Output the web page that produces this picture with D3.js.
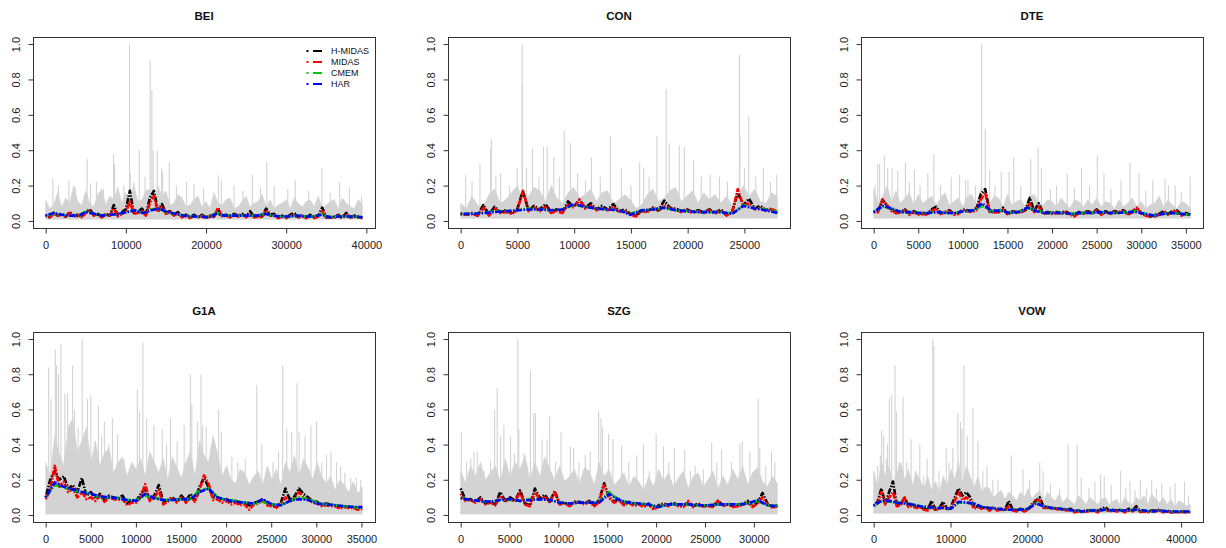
<!DOCTYPE html>
<html><head><meta charset="utf-8">
<script src="https://cdn.jsdelivr.net/npm/d3@7"></script>
<style>body{margin:0;background:#fff}svg{display:block}text{font-family:"Liberation Sans",Arial,sans-serif}</style>
</head><body><svg id="c" width="1226" height="548"></svg>
<script>
// ---------------- data ----------------
const panelNames = ["BEI","CON","DTE","G1A","SZG","VOW"];
const seriesNames = ["H-MIDAS","MIDAS","CMEM","HAR"];
const seriesColors = ["#000000","#ff0000","#00cd00","#0000ff"];
const yTicks = [0,0.2,0.4,0.6,0.8,1.0];
const xTicksBEI = [0,10000,20000,30000,40000];
const xTicksCON = [0,5000,10000,15000,20000,25000];
const xTicksDTE = [0,5000,10000,15000,20000,25000,30000,35000];
const xTicksG1A = [0,5000,10000,15000,20000,25000,30000,35000];
const xTicksSZG = [0,5000,10000,15000,20000,25000,30000];
const xTicksVOW = [0,10000,20000,30000,40000];
const lastIndex = [39500,27900,35500,35100,32400,41200];
const greyLow = [0.01,0.015,0.015,0.005,0.005,0.01];

// BEI
const beiGrey = [.12,.07,.09,.16,.08,.13,.1,.2,.11,.09,.17,.1,.08,.15,.18,.09,.14,.12,.19,.1,.16,.13,.2,.11,.12,.17,.18,.1,.2,.14,.17,.09,.1,.15,.13,.08,.09,.12,.14,.08,.11,.07,.16,.1,.09,.12,.13,.07,.08,.11,.14,.08,.1,.11,.15,.08,.12,.07,.09,.1,.12,.07,.13,.1,.08,.11,.12,.08,.14,.07,.09,.11,.12,.07,.13,.1,.08,.07,.12,.09];
const beiSpikes = [[900,.24],[1600,.2],[2900,.23],[3700,.19],[5170,.35],[5600,.21],[6330,.22],[7200,.18],[8460,.38],[8600,.32],[9750,.2],[10460,1.0],[10550,.27],[11000,.22],[11670,.4],[12400,.25],[13040,.91],[13250,.74],[13400,.4],[13920,.4],[14460,.3],[14600,.28],[15420,.33],[16300,.2],[17580,.22],[18500,.21],[19700,.18],[21540,.26],[21900,.23],[23500,.2],[24600,.17],[25790,.26],[26800,.19],[27580,.335],[28500,.2],[30200,.18],[31130,.23],[32800,.17],[34460,.3],[35500,.16],[36670,.22],[37880,.19],[39400,.14]];
const beiH = [.035,.02,.045,.03,.04,.025,.05,.03,.035,.025,.05,.065,.035,.04,.025,.04,.03,.09,.03,.05,.065,.17,.045,.05,.07,.035,.13,.17,.06,.095,.045,.055,.035,.05,.025,.035,.02,.035,.02,.035,.02,.03,.025,.065,.03,.035,.025,.04,.03,.04,.025,.055,.025,.03,.025,.07,.035,.04,.02,.03,.02,.035,.045,.025,.03,.02,.035,.02,.03,.075,.02,.025,.02,.035,.02,.045,.02,.03,.025,.02];
const beiM = [.03,.02,.04,.03,.035,.02,.045,.025,.03,.02,.045,.06,.03,.035,.02,.035,.03,.07,.025,.04,.05,.11,.04,.045,.055,.03,.1,.14,.05,.08,.04,.05,.03,.045,.02,.03,.015,.03,.02,.03,.015,.025,.025,.075,.025,.03,.02,.035,.025,.035,.02,.04,.02,.025,.02,.06,.03,.035,.015,.025,.015,.03,.035,.02,.025,.015,.03,.015,.025,.055,.015,.02,.015,.03,.015,.035,.015,.025,.02,.015];
const beiC = [.03,.04,.035,.03,.03,.055,.04,.03,.035,.04,.05,.06,.045,.065,.07,.045,.04,.03,.025,.025,.02,.045,.03,.03,.03,.03,.03,.04,.03,.025,.025,.03,.025,.025,.04,.02,.025,.025,.025,.02];
const beiR = [.03,.045,.035,.03,.03,.05,.04,.03,.035,.04,.05,.06,.045,.06,.07,.05,.04,.03,.025,.025,.02,.04,.03,.03,.03,.03,.03,.04,.03,.025,.025,.03,.025,.025,.035,.02,.025,.025,.025,.02];

// CON
const conGrey = [.1,.07,.14,.09,.08,.15,.18,.1,.12,.16,.2,.12,.14,.19,.17,.11,.2,.13,.1,.16,.19,.13,.15,.18,.11,.16,.17,.1,.12,.15,.12,.07,.09,.15,.18,.11,.13,.17,.19,.11,.14,.17,.1,.16,.12,.15,.1,.14,.09,.13,.2,.14,.18,.11,.1,.16,.14];
const conSpikes = [[440,.26],[1000,.22],[1700,.32],[2640,.41],[2700,.46],[3100,.25],[3520,.27],[4300,.2],[4980,.3],[5420,1.0],[5440,.78],[5800,.3],[6330,.41],[6900,.25],[7300,.42],[7620,.42],[8200,.36],[8700,.25],[9120,.51],[9670,.44],[10300,.27],[11000,.23],[11520,.36],[12300,.25],[13190,.48],[14160,.3],[15000,.2],[15770,.33],[16120,.3],[16600,.25],[17290,.48],[18110,.745],[18380,.44],[19260,.43],[19700,.42],[20520,.34],[21200,.25],[21980,.26],[22800,.25],[23500,.22],[24560,.94],[24600,.48],[25000,.3],[25380,.59],[26000,.25],[26670,.3],[27300,.22],[27840,.26]];
const conH = [.04,.035,.045,.03,.09,.035,.08,.05,.06,.045,.065,.17,.06,.085,.065,.095,.05,.065,.05,.11,.08,.12,.075,.1,.065,.085,.065,.095,.055,.065,.04,.03,.06,.055,.075,.06,.115,.075,.07,.055,.065,.05,.06,.05,.065,.045,.065,.035,.05,.16,.09,.125,.07,.085,.06,.07,.045];
const conM = [.04,.035,.04,.03,.075,.03,.07,.045,.05,.04,.06,.17,.055,.075,.055,.08,.045,.055,.045,.09,.075,.12,.07,.085,.06,.075,.06,.08,.05,.055,.035,.025,.055,.05,.07,.055,.09,.07,.065,.05,.06,.045,.055,.045,.06,.04,.06,.03,.045,.18,.085,.1,.065,.075,.055,.065,.055];
const conC = [.04,.04,.045,.055,.055,.06,.07,.065,.06,.065,.09,.08,.07,.065,.06,.04,.06,.065,.075,.06,.055,.05,.05,.05,.04,.09,.07,.065,.05];
const conR = [.04,.04,.045,.05,.055,.06,.065,.065,.06,.065,.095,.08,.07,.065,.06,.035,.06,.065,.075,.06,.055,.05,.05,.05,.04,.085,.07,.06,.045];

// DTE
const dteGrey = [.18,.1,.14,.2,.11,.17,.1,.13,.16,.09,.15,.1,.12,.14,.09,.13,.16,.09,.11,.13,.08,.14,.15,.09,.18,.12,.1,.14,.13,.08,.15,.09,.11,.12,.08,.14,.15,.1,.09,.12,.11,.08,.13,.1,.07,.12,.11,.08,.12,.09,.13,.08,.11,.1,.07,.12,.08,.1,.13,.08,.11,.07,.09,.1,.14,.08,.12,.09,.07,.11,.1,.07];
const dteSpikes = [[150,.2],[450,.32],[670,.32],[1200,.37],[1570,.3],[2060,.3],[2700,.285],[3560,.33],[4000,.22],[4570,.29],[5200,.2],[6070,.27],[6745,.377],[7500,.2],[8690,.25],[9630,.26],[10300,.23],[10570,.23],[11400,.2],[12100,1.0],[12510,.52],[13000,.29],[13600,.2],[14300,.28],[15180,.28],[15700,.36],[16500,.2],[17610,.35],[18430,.415],[18810,.3],[19800,.18],[20500,.2],[21700,.27],[22500,.19],[23300,.3],[24200,.2],[25070,.37],[25820,.27],[26600,.18],[27730,.23],[28740,.33],[29750,.27],[30500,.17],[31290,.23],[32670,.24],[33050,.2],[33800,.2],[34500,.16],[35480,.25]];
const dteH = [.05,.06,.12,.085,.065,.045,.05,.065,.04,.055,.04,.045,.04,.065,.08,.045,.05,.06,.04,.045,.065,.06,.055,.065,.15,.18,.055,.06,.05,.075,.04,.055,.05,.055,.06,.13,.055,.1,.045,.05,.045,.05,.045,.055,.04,.035,.05,.045,.055,.045,.065,.04,.055,.045,.055,.05,.06,.04,.055,.07,.045,.035,.025,.035,.04,.055,.04,.055,.06,.035,.045,.035];
const dteM = [.05,.05,.12,.09,.055,.045,.045,.06,.035,.05,.035,.04,.035,.055,.07,.04,.045,.055,.035,.04,.06,.055,.05,.06,.12,.16,.05,.05,.045,.065,.035,.05,.045,.05,.055,.1,.05,.08,.04,.045,.04,.045,.04,.05,.035,.025,.045,.04,.05,.04,.06,.035,.05,.04,.05,.045,.055,.035,.05,.075,.04,.03,.025,.025,.035,.05,.035,.05,.055,.03,.04,.03];
const dteC = [.05,.08,.07,.05,.05,.045,.045,.05,.045,.045,.055,.06,.085,.055,.06,.045,.05,.075,.06,.045,.045,.045,.04,.045,.045,.05,.045,.045,.05,.055,.04,.03,.04,.045,.04,.035];
const dteR = [.05,.085,.07,.05,.05,.045,.045,.05,.045,.045,.055,.06,.1,.055,.06,.045,.05,.075,.055,.045,.045,.045,.04,.045,.045,.05,.045,.045,.05,.05,.04,.03,.04,.045,.04,.035];

// G1A
const g1aGrey = [.3,.22,.45,.35,.28,.5,.55,.36,.42,.5,.3,.42,.28,.35,.38,.24,.3,.33,.22,.3,.26,.32,.22,.36,.3,.24,.32,.2,.33,.27,.21,.3,.36,.22,.42,.34,.3,.45,.35,.22,.28,.2,.18,.26,.24,.17,.22,.25,.17,.28,.2,.26,.17,.3,.24,.34,.22,.32,.27,.2,.3,.22,.18,.22,.14,.2,.17,.13,.19,.12,.16];
const g1aSpikes = [[330,.84],[590,.66],[1070,.94],[1210,.85],[1430,.8],[1690,.97],[2130,.69],[2430,.69],[2980,.85],[3200,.6],[3600,.5],[4050,1.0],[4640,.66],[5000,.68],[5480,.42],[5850,.62],[6200,.45],[6510,.53],[7000,.4],[7400,.55],[7950,.46],[8680,.32],[9460,.26],[10160,.71],[10400,.59],[10780,.98],[11190,.55],[12000,.51],[12920,.49],[13400,.4],[13840,.55],[14570,.42],[15350,.51],[16040,.8],[16200,.63],[16850,.53],[17220,.8],[17400,.51],[17800,.5],[18360,.39],[19170,.6],[19470,.47],[20640,.33],[21300,.3],[22120,.32],[22850,.2],[23400,.74],[23960,.4],[24620,.19],[25200,.3],[25800,.36],[26270,.85],[26720,.49],[27270,.47],[27860,.75],[28100,.47],[28740,.45],[29400,.51],[30030,.53],[30600,.3],[31130,.34],[31610,.36],[32240,.3],[32700,.28],[33160,.24],[33820,.21],[34450,.21],[34920,.2]];
const g1aH = [.1,.2,.25,.2,.22,.15,.17,.13,.21,.11,.13,.095,.12,.085,.11,.1,.095,.11,.065,.085,.08,.12,.15,.085,.11,.17,.075,.085,.1,.08,.11,.08,.12,.085,.16,.21,.16,.1,.1,.085,.09,.075,.08,.065,.07,.055,.07,.075,.09,.065,.06,.045,.07,.15,.085,.105,.15,.12,.1,.08,.075,.055,.065,.06,.055,.045,.05,.045,.045,.04,.045];
const g1aM = [.09,.14,.28,.16,.19,.13,.15,.1,.13,.09,.1,.08,.11,.075,.1,.09,.085,.09,.055,.07,.07,.1,.175,.08,.095,.14,.06,.075,.095,.07,.1,.07,.105,.075,.14,.225,.18,.085,.09,.07,.08,.06,.07,.055,.06,.03,.06,.065,.085,.055,.05,.04,.065,.1,.075,.095,.13,.1,.09,.07,.065,.05,.055,.05,.05,.035,.045,.04,.04,.03,.035];
const g1aC = [.1,.17,.16,.14,.13,.12,.1,.1,.095,.085,.085,.11,.1,.085,.085,.09,.09,.14,.15,.1,.085,.08,.07,.065,.075,.06,.055,.08,.1,.09,.07,.06,.055,.05,.045,.04];
const g1aR = [.1,.185,.16,.145,.13,.12,.105,.1,.095,.085,.08,.12,.095,.085,.085,.09,.09,.13,.15,.1,.085,.075,.07,.065,.09,.06,.055,.08,.09,.085,.065,.06,.055,.05,.045,.045];

// SZG
const szgGrey = [.25,.18,.28,.22,.3,.2,.24,.28,.19,.32,.22,.3,.26,.34,.2,.3,.22,.33,.26,.2,.28,.19,.22,.26,.18,.27,.25,.17,.3,.22,.26,.17,.2,.24,.16,.22,.19,.14,.22,.16,.26,.19,.24,.16,.21,.25,.15,.22,.24,.16,.2,.25,.15,.22,.17,.26,.2,.28,.17,.24,.27,.19,.16,.22,.18];
const szgSpikes = [[70,.47],[610,.3],[1020,.32],[1360,.36],[1700,.36],[2400,.25],[3060,.31],[3470,.6],[3740,.72],[4080,.45],[4420,.51],[5100,.45],[5500,.35],[5850,1.0],[5950,.49],[6500,.35],[7140,.82],[7480,.58],[7650,.58],[8330,.43],[8840,.43],[9110,.56],[9700,.3],[10270,.47],[11220,.39],[11560,.38],[12100,.3],[12750,.34],[13260,.36],[14110,.59],[14350,.55],[14520,.5],[15130,.46],[15580,.43],[16460,.39],[17200,.3],[18020,.34],[18700,.4],[19300,.25],[20000,.46],[20750,.39],[21300,.3],[21870,.38],[22920,.37],[23500,.25],[23980,.28],[24830,.26],[25680,.41],[26200,.3],[26700,.37],[27720,.3],[28570,.4],[28810,.42],[29590,.36],[30440,.66],[30600,.38],[31220,.28],[31800,.36],[32140,.3]];
const szgH = [.15,.085,.09,.075,.1,.065,.075,.06,.13,.08,.1,.08,.14,.065,.055,.15,.095,.115,.075,.135,.065,.07,.055,.075,.075,.065,.08,.055,.085,.18,.1,.075,.09,.06,.075,.055,.065,.05,.065,.035,.055,.065,.055,.07,.055,.05,.07,.05,.065,.05,.055,.05,.08,.055,.065,.05,.055,.06,.08,.05,.07,.125,.065,.045,.055];
const szgM = [.12,.08,.085,.07,.09,.06,.07,.055,.11,.075,.09,.075,.13,.06,.05,.13,.09,.1,.07,.13,.06,.065,.05,.07,.07,.06,.075,.05,.075,.17,.095,.07,.085,.055,.07,.05,.06,.045,.06,.03,.05,.06,.05,.065,.05,.045,.08,.045,.06,.045,.05,.045,.08,.05,.06,.045,.05,.055,.07,.045,.065,.1,.06,.04,.05];
const szgC = [.1,.085,.08,.075,.085,.085,.08,.09,.09,.085,.07,.065,.07,.07,.075,.13,.085,.07,.065,.06,.045,.06,.06,.06,.055,.055,.06,.06,.06,.065,.08,.055,.05];
const szgR = [.095,.085,.08,.075,.085,.09,.08,.085,.09,.085,.07,.065,.07,.07,.07,.12,.085,.07,.065,.06,.045,.06,.06,.06,.055,.055,.06,.06,.06,.065,.085,.055,.05];

// VOW
const vowGrey = [.25,.16,.3,.22,.28,.18,.24,.3,.2,.26,.17,.24,.2,.15,.22,.14,.19,.13,.22,.17,.26,.2,.3,.18,.28,.22,.16,.22,.13,.16,.15,.1,.12,.14,.09,.13,.11,.08,.13,.1,.15,.09,.12,.14,.08,.13,.1,.08,.12,.07,.1,.08,.06,.11,.09,.06,.1,.08,.06,.09,.1,.06,.08,.09,.05,.1,.07,.06,.1,.08,.11,.06,.12,.09,.07,.1,.06,.09,.05,.08,.07,.05,.06];
const vowSpikes = [[90,.24],[520,.28],[870,.34],[1040,.48],[1300,.45],[1650,.32],[1800,.4],[2040,.66],[2350,.68],[2780,.85],[2960,.59],[3300,.3],[3830,.67],[4300,.3],[4870,.43],[5400,.25],[6000,.4],[6500,.22],[6960,.32],[7700,1.0],[7830,.96],[8500,.25],[9440,.38],[9800,.3],[10300,.38],[10960,.58],[11300,.53],[11480,.49],[11740,.85],[12170,.45],[12910,.61],[13570,.42],[14200,.25],[14740,.28],[15500,.2],[16170,.2],[17910,.34],[19430,.26],[20300,.2],[21610,.3],[22040,.25],[23000,.18],[24200,.15],[25300,.4],[26480,.4],[27000,.21],[28000,.15],[28780,.19],[29520,.23],[30000,.22],[30900,.17],[32130,.25],[32800,.15],[33350,.19],[34000,.14],[34700,.2],[35500,.15],[36170,.2],[36800,.15],[37480,.18],[38570,.16],[39220,.18],[40440,.19],[40960,.11]];
const vowH = [.05,.075,.15,.065,.13,.19,.055,.06,.1,.05,.06,.045,.05,.035,.03,.08,.03,.04,.075,.035,.045,.1,.15,.11,.13,.1,.045,.05,.04,.045,.03,.045,.03,.035,.03,.08,.03,.025,.035,.025,.035,.06,.08,.1,.045,.045,.04,.04,.035,.035,.03,.035,.02,.025,.02,.025,.025,.03,.02,.035,.045,.025,.03,.025,.03,.02,.035,.025,.05,.02,.025,.02,.025,.025,.03,.02,.025,.015,.02,.015,.02,.015,.02];
const vowM = [.05,.065,.13,.06,.1,.13,.05,.055,.1,.045,.05,.04,.045,.03,.025,.05,.025,.035,.05,.03,.04,.08,.13,.085,.1,.08,.035,.045,.035,.04,.025,.04,.025,.03,.025,.05,.025,.02,.03,.02,.03,.05,.09,.08,.04,.04,.035,.035,.03,.03,.025,.03,.015,.02,.015,.02,.02,.025,.015,.03,.03,.02,.025,.02,.025,.015,.03,.02,.035,.015,.02,.015,.02,.02,.025,.015,.02,.015,.015,.015,.015,.015,.015];
const vowC = [.05,.08,.075,.07,.065,.06,.05,.045,.04,.04,.035,.07,.07,.065,.045,.04,.035,.03,.03,.03,.035,.07,.05,.04,.035,.03,.025,.02,.025,.025,.03,.025,.025,.025,.03,.025,.02,.025,.02,.02,.02,.02];
const vowR = [.055,.08,.08,.07,.065,.06,.05,.045,.04,.04,.035,.075,.07,.065,.045,.04,.035,.03,.03,.03,.035,.065,.05,.04,.035,.03,.025,.02,.025,.025,.03,.025,.025,.025,.03,.025,.02,.025,.02,.02,.02,.02];

// ---------------- assembly ----------------
const panels = [
  {grey:beiGrey, spikes:beiSpikes, series:[beiH,beiM,beiC,beiR], xt:xTicksBEI},
  {grey:conGrey, spikes:conSpikes, series:[conH,conM,conC,conR], xt:xTicksCON},
  {grey:dteGrey, spikes:dteSpikes, series:[dteH,dteM,dteC,dteR], xt:xTicksDTE},
  {grey:g1aGrey, spikes:g1aSpikes, series:[g1aH,g1aM,g1aC,g1aR], xt:xTicksG1A},
  {grey:szgGrey, spikes:szgSpikes, series:[szgH,szgM,szgC,szgR], xt:xTicksSZG},
  {grey:vowGrey, spikes:vowSpikes, series:[vowH,vowM,vowC,vowR], xt:xTicksVOW}
];
panels.forEach((p,k)=>{p.name=panelNames[k];p.n=lastIndex[k];p.low=greyLow[k];});

const colLeft = [33, 448, 861], boxW = 342;
const rowTop = [37, 332], boxH = [191, 190];
const svg = d3.select("#c");
const grey = "#d3d3d3";

panels.forEach((p,k)=>{
  const col = k%3, row = Math.floor(k/3);
  const L = colLeft[col], T = rowTop[row], W = boxW, H = boxH[row];
  const x = d3.scaleLinear().domain([-0.04*p.n, 1.04*p.n]).range([L, L+W]);
  const y = d3.scaleLinear().domain([-0.04, 1.04]).range([T+H, T]);
  const g = svg.append("g");
  const idx = arr => (i => i*p.n/(arr.length-1));

  // grey band (ragged)
  const gx = idx(p.grey);
  g.append("path").datum(p.grey)
    .attr("d", d3.area().x((d,i)=>x(gx(i))).y0(y(p.low)).y1(d=>y(d)))
    .attr("fill", grey).attr("stroke", grey).attr("stroke-width", 0.6);
  // grey spikes
  g.selectAll("line.sp").data(p.spikes).join("line")
    .attr("x1", d=>x(d[0])).attr("x2", d=>x(d[0]))
    .attr("y1", y(p.low)).attr("y2", d=>y(d[1]))
    .attr("stroke", grey).attr("stroke-width", 1.1);

  // model series
  p.series.forEach((s,j)=>{
    const sx = idx(s);
    g.append("path").datum(s)
      .attr("d", d3.line().x((d,i)=>x(sx(i))).y(d=>y(d)))
      .attr("fill","none").attr("stroke", seriesColors[j])
      .attr("stroke-width", 2.6).attr("stroke-linejoin","round")
      .attr("stroke-dasharray", "1.5,1.5,6,1.5");
  });

  // box
  g.append("rect").attr("x", L+0.5).attr("y", T+0.5).attr("width", W).attr("height", H)
    .attr("fill","none").attr("stroke","#333").attr("stroke-width",1);

  // x axis
  const ax = g.append("g").attr("transform", `translate(0,${T+H+0.5})`)
    .call(d3.axisBottom(x).tickValues(p.xt).tickFormat(d3.format("d")).tickSize(5).tickSizeOuter(0).tickPadding(8));
  ax.select(".domain").remove();
  ax.selectAll("line").attr("stroke","#333");
  ax.selectAll("text").attr("font-size", 11).attr("fill","#222").attr("font-family","Liberation Sans, Arial, sans-serif");

  // y axis
  const ay = g.append("g").attr("transform", `translate(${L+0.5},0)`)
    .call(d3.axisLeft(y).tickValues(yTicks).tickFormat(d3.format(".1f")).tickSize(5).tickSizeOuter(0));
  ay.select(".domain").remove();
  ay.selectAll("line").attr("stroke","#333");
  ay.selectAll("text").attr("font-size", 11).attr("fill","#222").attr("font-family","Liberation Sans, Arial, sans-serif")
    .attr("x",0).attr("dy",0).attr("text-anchor","middle").attr("transform","translate(-14,0) rotate(-90)");

  // title
  g.append("text").attr("x", L+W/2).attr("y", T-17).attr("text-anchor","middle")
    .attr("font-weight","bold").attr("font-size", 11.5).attr("fill","#111").text(p.name);

  // legend (first panel only)
  if (k===0) {
    const lg = g.append("g");
    seriesNames.forEach((nm,j)=>{
      const yy = 51 + j*11;
      lg.append("line").attr("x1",306.5).attr("x2",308.5).attr("y1",yy).attr("y2",yy).attr("stroke",seriesColors[j]).attr("stroke-width",2);
      lg.append("line").attr("x1",313).attr("x2",322).attr("y1",yy).attr("y2",yy).attr("stroke",seriesColors[j]).attr("stroke-width",2);
      lg.append("text").attr("x",331).attr("y",yy+3.2).attr("font-size",9).attr("fill","#111").text(nm);
    });
  }
});
</script></body></html>
